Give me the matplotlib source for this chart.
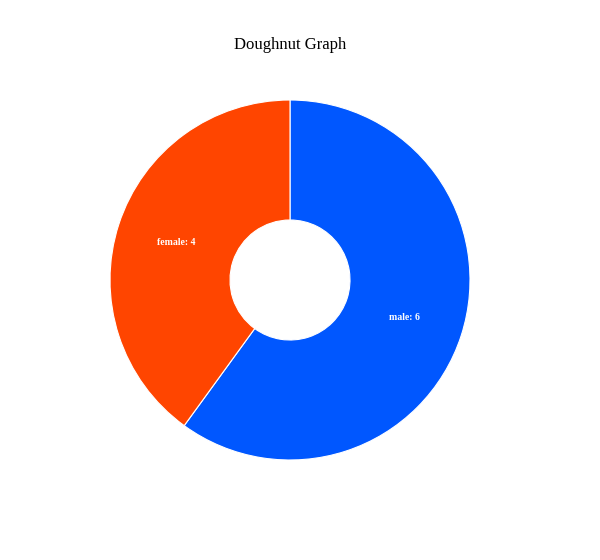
import matplotlib
matplotlib.use("Agg")
import matplotlib.pyplot as plt

labels = ["male", "female"]
values = [6, 4]
colors = ["#0057ff", "#ff4500"]

fig = plt.figure(figsize=(6, 5.6), dpi=100)
# pie centred at (290, 280) px, outer radius 180 px
ax = fig.add_axes([110 / 600, 100 / 560, 360 / 600, 360 / 560])
wedges, _ = ax.pie(values, colors=colors, startangle=90, counterclock=False,
                   radius=1.0, wedgeprops=dict(width=2 / 3, edgecolor="white", linewidth=0.8))
ax.set_xlim(-1, 1)
ax.set_ylim(-1, 1)
ax.set_aspect("equal")
ax.axis("off")

# labels at the middle of the ring
import numpy as np
total = sum(values)
start = 90
for lab, v in zip(labels, values):
    mid = start - v / total * 360 / 2
    start -= v / total * 360
    r = 2 / 3
    ax.text(r * np.cos(np.radians(mid)), r * np.sin(np.radians(mid)), f"{lab}: {v}",
            ha="center", va="center", color="white", fontsize=7, fontweight="bold",
            family="Liberation Serif")

fig.text(290 / 600, 1 - 45 / 560, "Doughnut Graph", ha="center", va="center",
         fontsize=12, family="Liberation Serif")

fig.savefig("out.png", dpi=100)
